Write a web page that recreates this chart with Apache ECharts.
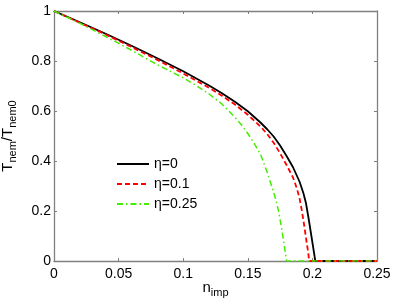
<!DOCTYPE html>
<html><head><meta charset="utf-8">
<script src="https://cdn.jsdelivr.net/npm/echarts@6/dist/echarts.min.js"></script>
<style>html,body{margin:0;padding:0;background:#fff}#c{width:395px;height:301px}</style>
</head><body><div id="c"></div>
<script>
// tick labels
var xTicks = ['0', '0.05', '0.1', '0.15', '0.2', '0.25'];
var yTicks = ['0', '0.2', '0.4', '0.6', '0.8', '1'];
var seriesNames = ['η=0', 'η=0.1', 'η=0.25'];

// η=0
var nBlack = [0, 0.02, 0.04, 0.06, 0.08, 0.1, 0.12, 0.13, 0.14, 0.15, 0.16, 0.165, 0.17, 0.175, 0.18, 0.185, 0.19, 0.193, 0.195, 0.197, 0.199, 0.2005, 0.2015, 0.2022, 0.25];
var tBlack = [1, 0.955, 0.909, 0.861, 0.811, 0.759, 0.702, 0.671, 0.637, 0.599, 0.553, 0.527, 0.498, 0.462, 0.42, 0.375, 0.318, 0.272, 0.232, 0.172, 0.107, 0.058, 0.025, 0, 0];
// η=0.1
var nRed = [0, 0.02, 0.04, 0.06, 0.08, 0.1, 0.12, 0.13, 0.14, 0.15, 0.16, 0.165, 0.17, 0.175, 0.18, 0.185, 0.188, 0.19, 0.192, 0.194, 0.1955, 0.1968, 0.1975, 0.25];
var tRed = [1, 0.953, 0.906, 0.856, 0.8045, 0.75, 0.693, 0.661, 0.626, 0.585, 0.537, 0.508, 0.473, 0.431, 0.384, 0.334, 0.29, 0.252, 0.197, 0.13, 0.076, 0.032, 0, 0];
// η=0.25
var nGreen = [0, 0.02, 0.04, 0.06, 0.08, 0.1, 0.11, 0.12, 0.13, 0.14, 0.145, 0.15, 0.155, 0.16, 0.165, 0.17, 0.172, 0.174, 0.176, 0.178, 0.1795, 0.18, 0.25];
var tGreen = [1, 0.951, 0.898, 0.843, 0.785, 0.733, 0.702, 0.668, 0.628, 0.575, 0.545, 0.51, 0.47, 0.425, 0.355, 0.275, 0.24, 0.195, 0.135, 0.07, 0.018, 0, 0];

function pairs(xs, ys) { return xs.map(function (x, i) { return [x, ys[i]]; }); }

var FONT = 'Liberation Sans';
var axisColor = '#808080';
var chart = echarts.init(document.getElementById('c'), null, {renderer: 'canvas'});

function xAxisCfg(pos, showLabels) {
  return {
    type: 'value', position: pos, min: 0, max: 0.25, interval: 0.05,
    axisLine: {show: true, onZero: false, lineStyle: {color: axisColor, width: 1.3}},
    axisTick: {show: true, inside: true, length: 3, lineStyle: {color: axisColor, width: 1}},
    splitLine: {show: false},
    axisLabel: {show: showLabels, margin: 6, color: '#000', fontSize: 14, fontFamily: FONT,
      formatter: function (v) { return xTicks[Math.round(v / 0.05)]; }}
  };
}
function yAxisCfg(pos, showLabels) {
  return {
    type: 'value', position: pos, min: 0, max: 1, interval: 0.2,
    axisLine: {show: true, onZero: false, lineStyle: {color: axisColor, width: 1.3}},
    axisTick: {show: true, inside: true, length: 3, lineStyle: {color: axisColor, width: 1}},
    splitLine: {show: false},
    axisLabel: {show: showLabels, margin: 3, color: '#000', fontSize: 14, fontFamily: FONT,
      formatter: function (v) { return yTicks[Math.round(v / 0.2)]; }}
  };
}

var richSub = {
  m: {fontSize: 15, fontFamily: FONT, color: '#000'},
  s: {fontSize: 11, fontFamily: FONT, color: '#000', padding: [9, 0, 0, 0]}
};
var xMain = xAxisCfg('bottom', true);
xMain.name = '{m|n}{s|imp}';
xMain.nameLocation = 'middle';
xMain.nameGap = 17;
xMain.nameMoveOverlap = false;
xMain.nameTextStyle = {color: '#000', fontFamily: FONT, rich: richSub};
var yMain = yAxisCfg('left', true);
yMain.name = '{m|T}{s|nem}{m|/T}{s|nem0}';
yMain.nameLocation = 'middle';
yMain.nameGap = 36;
yMain.nameMoveOverlap = false;
yMain.nameTextStyle = {color: '#000', fontFamily: FONT, rich: richSub};

chart.setOption({
  animation: false,
  backgroundColor: '#fff',
  grid: {left: 54, right: 18, top: 11, bottom: 40, containLabel: false, outerBoundsMode: 'none'},
  xAxis: [xMain, xAxisCfg('top', false)],
  yAxis: [yMain, yAxisCfg('right', false)],
  legend: {
    orient: 'vertical', left: 111, top: 152, itemWidth: 32, itemHeight: 14, itemGap: 6,
    itemStyle: {opacity: 0, borderWidth: 0},
    textStyle: {fontSize: 14, fontFamily: FONT, color: '#000'},
    data: seriesNames
  },
  series: [
    {name: seriesNames[0], type: 'line', data: pairs(nBlack, tBlack), showSymbol: false, symbol: 'none',
      smooth: false, lineStyle: {color: '#000', width: 1.8, type: 'solid'}, itemStyle: {color: '#000'}, z: 3},
    {name: seriesNames[1], type: 'line', data: pairs(nRed, tRed), showSymbol: false, symbol: 'none',
      smooth: false, lineStyle: {color: '#ff0000', width: 1.8, type: [5, 3]}, itemStyle: {color: '#ff0000'}, z: 4},
    {name: seriesNames[2], type: 'line', data: pairs(nGreen, tGreen), showSymbol: false, symbol: 'none',
      smooth: false, lineStyle: {color: '#44ee00', width: 1.5, type: [6, 3, 1.5, 3]}, itemStyle: {color: '#44ee00'}, z: 5}
  ]
});
</script></body></html>
